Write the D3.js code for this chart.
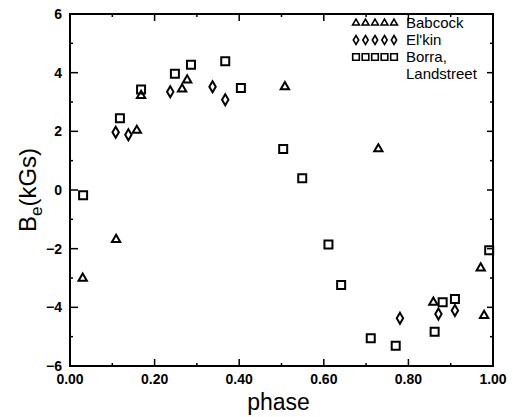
<!DOCTYPE html>
<html>
<head>
<meta charset="utf-8">
<script src="https://cdn.jsdelivr.net/npm/d3@7"></script>
<style>
  body { margin: 0; background: #fff; }
  svg { display: block; }
  text { font-family: "Liberation Sans", Arial, sans-serif; fill: #000; }
</style>
</head>
<body>
<svg id="chart"></svg>
<script>
// Babcock (triangles)
const babPhase = [0.030, 0.109, 0.158, 0.168, 0.265, 0.277, 0.508, 0.729, 0.859, 0.971, 0.979]
const babField = [-3.01, -1.69, 2.03, 3.22, 3.44, 3.75, 3.52, 1.40, -3.83, -2.66, -4.28]

// El'kin (diamonds)
const elkPhase = [0.108, 0.138, 0.237, 0.337, 0.367, 0.780, 0.871, 0.910]
const elkField = [1.97, 1.88, 3.35, 3.52, 3.08, -4.37, -4.23, -4.11]

// Borra, Landstreet (squares)
const blPhase = [0.031, 0.118, 0.168, 0.248, 0.286, 0.367, 0.404, 0.504, 0.549, 0.611, 0.641, 0.711, 0.770, 0.862, 0.881, 0.910, 0.991]
const blField = [-0.18, 2.45, 3.43, 3.96, 4.27, 4.39, 3.48, 1.40, 0.40, -1.86, -3.24, -5.05, -5.31, -4.83, -3.83, -3.72, -2.05]

const xTickVals = [0, 0.2, 0.4, 0.6, 0.8, 1.0]
const yTickVals = [-6, -4, -2, 0, 2, 4, 6]
const legendNames = ['Babcock', "El'kin", 'Borra,']

const width = 513, height = 417
const margin = { top: 14, right: 20, bottom: 51, left: 70 }
const w = width - margin.left - margin.right
const h = height - margin.top - margin.bottom

const svg = d3.select('#chart')
  .attr('width', width)
  .attr('height', height)

const chart = svg.append('g')
  .attr('transform', `translate(${margin.left}, ${margin.top})`)

const x = d3.scaleLinear().domain([0, 1]).range([0, w])
const y = d3.scaleLinear().domain([-6, 6]).range([h, 0])

// frame
chart.append('rect')
  .attr('width', w).attr('height', h)
  .attr('fill', 'none').attr('stroke', '#000').attr('stroke-width', 2)

// ticks (inward), majors and minors
const xMinor = d3.range(0.1, 1, 0.2)
const yMinor = d3.range(-5, 6, 2)
const tick = (sel, data, x1, y1, x2, y2) => sel.selectAll(null).data(data).enter()
  .append('line').attr('x1', x1).attr('y1', y1).attr('x2', x2).attr('y2', y2)
  .attr('stroke', '#000').attr('stroke-width', 1.5)

const tg = chart.append('g')
tick(tg, xTickVals, d => x(d), h, d => x(d), h - 7)
tick(tg, xMinor, d => x(d), h, d => x(d), h - 3)
tick(tg, xTickVals, d => x(d), 0, d => x(d), 7)
tick(tg, xMinor, d => x(d), 0, d => x(d), 3)
tick(tg, yTickVals, 0, d => y(d), 8, d => y(d))
tick(tg, yMinor, 0, d => y(d), 3, d => y(d))
tick(tg, yTickVals, w, d => y(d), w - 6, d => y(d))
tick(tg, yMinor, w, d => y(d), w - 3, d => y(d))

// tick labels
chart.append('g').selectAll('text').data(xTickVals).enter()
  .append('text')
  .attr('x', d => x(d)).attr('y', h + 18)
  .attr('text-anchor', 'middle')
  .attr('font-size', 14).attr('font-weight', 'bold')
  .text(d => d3.format('.2f')(d))

chart.append('g').selectAll('text').data(yTickVals).enter()
  .append('text')
  .attr('x', -8).attr('y', d => y(d) + 5)
  .attr('text-anchor', 'end')
  .attr('font-size', 14).attr('font-weight', 'bold')
  .text(d => d < 0 ? '\u2212' + Math.abs(d) : d)

// axis titles
svg.append('text')
  .attr('x', margin.left + w / 2 - 3).attr('y', 410)
  .attr('text-anchor', 'middle')
  .attr('font-size', 23)
  .text('phase')

const yl = svg.append('text')
  .attr('transform', `translate(36, ${margin.top + h / 2}) rotate(-90)`)
  .attr('text-anchor', 'middle')
  .attr('font-size', 24)
yl.append('tspan').text('B')
yl.append('tspan').attr('font-size', 17).attr('dy', 6).text('e')
yl.append('tspan').attr('dy', -6).text('(kGs)')

// symbols
const sym = {
  tri: d3.symbol().type(d3.symbolTriangle).size(30),
  dia: 'M0,-5.5L3.2,0L0,5.5L-3.2,0Z',
  sq: 'M-4,-4H4V4H-4Z'
}

function drawSeries(phase, field, path, cls) {
  chart.append('g').attr('class', cls)
    .selectAll('path').data(phase).enter()
    .append('path')
    .attr('d', path)
    .attr('transform', (d, i) => `translate(${x(d)}, ${y(field[i])})`)
    .attr('fill', 'none').attr('stroke', '#000').attr('stroke-width', 2)
}

drawSeries(babPhase, babField, sym.tri(), 'bab')
drawSeries(elkPhase, elkField, sym.dia, 'elk')
drawSeries(blPhase, blField, sym.sq, 'bl')

// legend
const legend = svg.append('g').attr('transform', 'translate(356, 23)')
const legSyms = [d3.symbol().type(d3.symbolTriangle).size(20)(), 'M0,-4.5L2.7,0L0,4.5L-2.7,0Z', 'M-3.3,-3.3H3.3V3.3H-3.3Z']
legendNames.forEach((name, r) => {
  const row = legend.append('g').attr('transform', `translate(0, ${r * 17})`)
  row.selectAll('path').data(d3.range(5)).enter()
    .append('path')
    .attr('d', legSyms[r])
    .attr('transform', d => `translate(${d * 9.5}, 0)`)
    .attr('fill', 'none').attr('stroke', '#000').attr('stroke-width', 1.6)
  row.append('text')
    .attr('x', 50).attr('y', 5)
    .attr('font-size', 15)
    .text(name)
})
legend.append('text')
  .attr('x', 50).attr('y', 56)
  .attr('font-size', 15)
  .text('Landstreet')
</script>
</body>
</html>
